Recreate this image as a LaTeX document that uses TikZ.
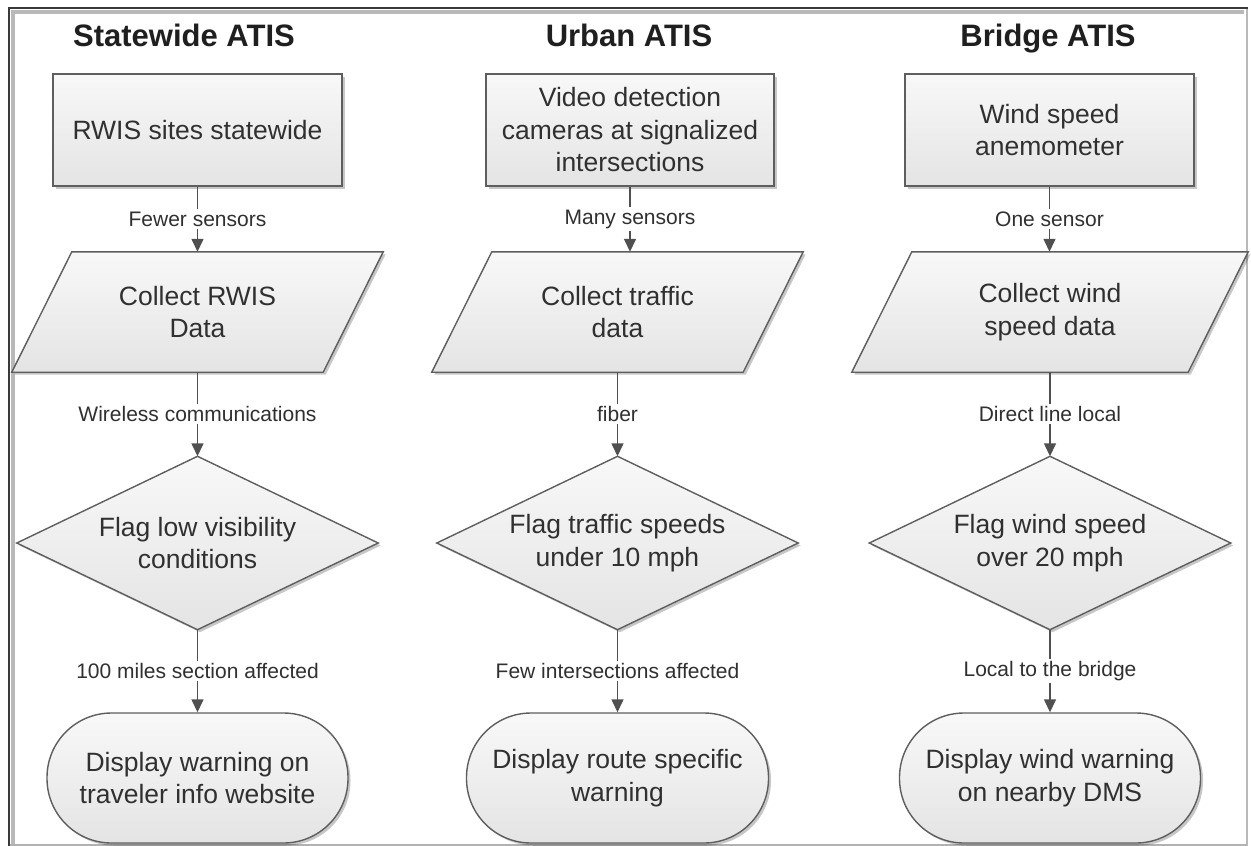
\documentclass[tikz,border=0pt]{standalone}
\usepackage{fontspec}
\setmainfont{Liberation Sans}
\usetikzlibrary{arrows.meta,calc,shadows,backgrounds}
\definecolor{shline}{HTML}{5E5E5E}
\definecolor{txt}{HTML}{303030}
\definecolor{conn}{HTML}{505050}
\definecolor{shtop}{HTML}{F8F8F8}
\definecolor{shbot}{HTML}{E4E4E4}
\definecolor{framedark}{HTML}{3A3A3A}
\begin{document}
\begin{tikzpicture}[x=1pt,y=-1pt,
  shp/.style={draw=shline, line width=1.4pt, top color=shtop, bottom color=shbot,
    drop shadow={shadow xshift=2.5pt, shadow yshift=-2.5pt, opacity=0.22, fill=black}},
  txtnode/.style={align=center, text=txt, font=\fontsize{26.5}{32.5}\selectfont, inner sep=0pt},
  boxnode/.style={shp, txtnode, rectangle, minimum width=289pt, minimum height=112pt},
  paranode/.style={txtnode, minimum width=371pt, minimum height=120pt},
  dianode/.style={txtnode, minimum width=361pt, minimum height=173pt},
  termnode/.style={shp, txtnode, rectangle, rounded corners=64.5pt, minimum width=301pt, minimum height=130pt},
  ttl/.style={font=\fontsize{31}{36}\selectfont\bfseries, text=black!88, anchor=base, inner sep=0pt},
  lbl/.style={fill=white, text=txt, font=\fontsize{21}{24}\selectfont, inner sep=2.5pt},
  arr/.style={draw=conn, line width=1.4pt, -{Triangle[length=13pt,width=12pt]}}
]
\useasboundingbox (0,0) rectangle (1251,846);

% titles
\node[ttl] (h1) at (184,46.5) {Statewide ATIS};
\node[ttl] (h2) at (629,46.5) {Urban ATIS};
\node[ttl] (h3) at (1048,46.5) {Bridge ATIS};

% source boxes
\node[boxnode] (b1) at (197.5,130) {RWIS sites statewide};
\node[boxnode, minimum width=288pt] (b2) at (630,130) {Video detection\\cameras at signalized\\intersections};
\node[boxnode] (b3) at (1049.5,130) {Wind speed\\anemometer};

% parallelograms (text nodes; outlines on background)
\node[paranode] (p1) at (197.5,312) {Collect RWIS\\Data};
\node[paranode] (p2) at (617.5,312) {Collect traffic\\data};
\node[paranode, minimum width=396pt] (p3) at (1050,312) {Collect wind\\speed data};

% diamonds
\node[dianode] (d1) at (197.5,543) {Flag low visibility\\conditions};
\node[dianode] (d2) at (617.5,543) {Flag traffic speeds\\under 10 mph};
\node[dianode] (d3) at (1050,543) {Flag wind speed\\over 20 mph};

% terminals
\node[termnode] (t1) at (197.5,778) {Display warning on\\traveler info website};
\node[termnode, minimum width=302pt] (t2) at (617.5,778) {Display route specific\\warning};
\node[termnode] (t3) at (1050,778) {Display wind warning\\on nearby DMS};

\begin{scope}[on background layer]
  \fill[white] (0,0) rectangle (1251,846);
  % frame
  \draw[gray!55, line width=4pt] (13,846) -- (13,12) -- (1244,12);
  \draw[gray!55, line width=2.5pt] (1247,8) -- (1247,846);
  \draw[gray!60, line width=2pt] (9,845) -- (1247,845);
  \draw[framedark, line width=2.2pt] (9,846) -- (9,8) -- (1248,8);
  \foreach \p in {p1,p2,p3}
    \path[shp] ($(\p.north west)+(60,0)$) -- (\p.north east) -- ($(\p.south east)+(-60,0)$) -- (\p.south west) -- cycle;
  \foreach \d in {d1,d2,d3}
    \path[shp] (\d.north) -- (\d.east) -- (\d.south) -- (\d.west) -- cycle;
\end{scope}

% connectors
\draw[arr] (b1.south) -- node[lbl]{Fewer sensors} (b1.south |- p1.north);
\draw[arr] (b2.south) -- node[lbl]{Many sensors} (b2.south |- p2.north);
\draw[arr] (b3.south) -- node[lbl]{One sensor} (b3.south |- p3.north);

\draw[arr] (p1.south) -- node[lbl]{Wireless communications} (d1.north);
\draw[arr] (p2.south) -- node[lbl]{fiber} (d2.north);
\draw[arr] (p3.south) -- node[lbl]{Direct line local} (d3.north);

\draw[arr] (d1.south) -- node[lbl]{100 miles section affected} (t1.north);
\draw[arr] (d2.south) -- node[lbl]{Few intersections affected} (t2.north);
\draw[arr] (d3.south) -- node[lbl]{Local to the bridge} (t3.north);
\end{tikzpicture}
\end{document}
